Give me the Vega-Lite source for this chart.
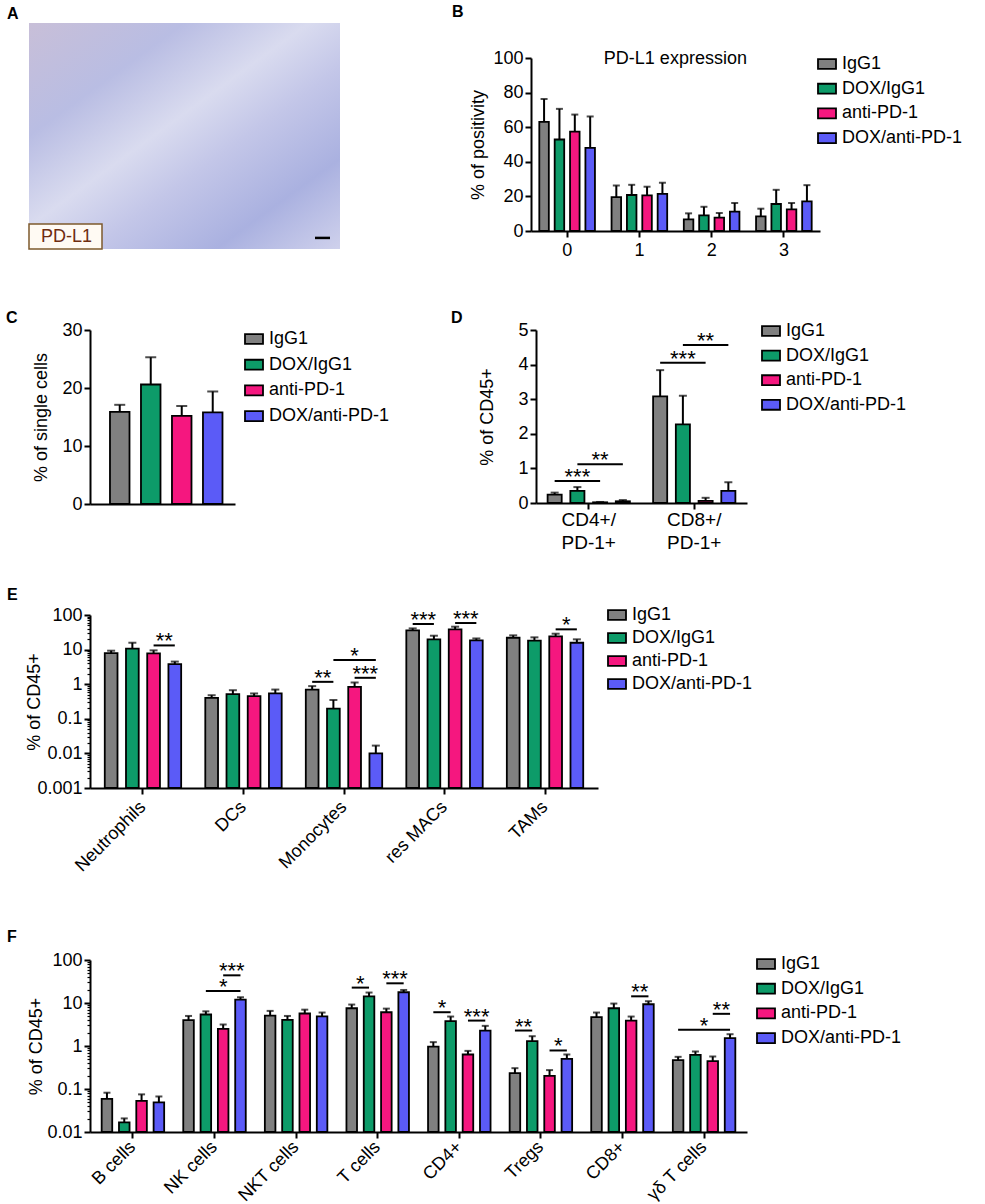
{
  "$schema": "https://vega.github.io/schema/vega-lite/v6.json",
  "padding": {"left": 6, "top": 4, "right": 0, "bottom": 0},
  "config": {
    "font": "Liberation Sans",
    "view": {"stroke": null},
    "axis": {
      "domainColor": "black", "domainWidth": 2,
      "tickColor": "black", "tickWidth": 2, "tickSize": 6,
      "labelColor": "black", "labelFontSize": 18, "labelPadding": 2, "labelOverlap": false,
      "titleColor": "black", "titleFontSize": 18, "titleFontWeight": "normal",
      "grid": false
    },
    "legend": {
      "orient": "none", "direction": "vertical",
      "symbolType": "M-1,-0.55H1V0.55H-1Z", "symbolSize": 324,
      "symbolStrokeColor": "black", "symbolStrokeWidth": 1.8, "symbolOpacity": 1,
      "labelFontSize": 18, "labelColor": "black", "labelOffset": 5,
      "rowPadding": 5.5, "padding": 0
    },
    "title": {"fontSize": 16, "fontWeight": "bold", "anchor": "start", "frame": "group", "baseline": "alphabetic", "color": "black"}
  },
  "resolve": {"scale": {"color": "independent"}, "legend": {"color": "independent"}},
  "concat": [
    {
      "resolve": {"scale": {"color": "independent"}, "legend": {"color": "independent"}},
      "concat": [
        {
          "resolve": {"scale": {"color": "independent"}, "legend": {"color": "independent"}},
          "concat": [
            {
              "title": {"text": "A", "dx": -83, "offset": 1},
              "width": 250, "height": 191,
              "data": {"values": [{}]},
              "layer": [
                {
                  "mark": {"type": "rect", "color": {"gradient": "linear", "x1": 0, "y1": 0, "x2": 1, "y2": 1,
                    "stops": [{"offset": 0, "color": "#c8bfd8"}, {"offset": 0.25, "color": "#b9bde3"}, {"offset": 0.45, "color": "#d9dbef"}, {"offset": 0.6, "color": "#c3c6e8"}, {"offset": 0.8, "color": "#aab1e0"}, {"offset": 1, "color": "#cfd1ec"}]}},
                  "encoding": {
                    "x": {"datum": -24.4, "type": "quantitative", "scale": {"domain": [0, 100], "nice": false}, "axis": null},
                    "x2": {"datum": 100},
                    "y": {"datum": 0, "type": "quantitative", "scale": {"domain": [0, 100], "nice": false}, "axis": null},
                    "y2": {"datum": 118.3}
                  }
                },
                {
                  "mark": {"type": "rect", "fill": "#fffaf3", "stroke": "#7d5a2c", "strokeWidth": 1.5},
                  "encoding": {
                    "x": {"datum": -24.4, "type": "quantitative"}, "x2": {"datum": 4.8},
                    "y": {"datum": 0, "type": "quantitative"}, "y2": {"datum": 13.1}
                  }
                },
                {
                  "mark": {"type": "text", "text": "PD-L1", "fontSize": 18, "color": "#6e2c10", "align": "center", "baseline": "middle"},
                  "encoding": {"x": {"datum": -9.4, "type": "quantitative"}, "y": {"datum": 6.5, "type": "quantitative"}}
                },
                {
                  "mark": {"type": "rule", "strokeWidth": 2.5, "color": "black"},
                  "encoding": {"x": {"datum": 90, "type": "quantitative"}, "x2": {"datum": 96}, "y": {"datum": 5.8, "type": "quantitative"}}
                }
              ]
            },
            {
              "title": {"text": "B", "dx": -79, "offset": 29},
              "width": 289, "height": 173,
              "data": {"values": [
                {"Bin": "0", "Treatment": "IgG1", "Mean": 63.1, "Upper": 76.3},
                {"Bin": "0", "Treatment": "DOX/IgG1", "Mean": 52.9, "Upper": 70.6},
                {"Bin": "0", "Treatment": "anti-PD-1", "Mean": 57.5, "Upper": 67.3},
                {"Bin": "0", "Treatment": "DOX/anti-PD-1", "Mean": 48.1, "Upper": 66.2},
                {"Bin": "1", "Treatment": "IgG1", "Mean": 19.6, "Upper": 26.3},
                {"Bin": "1", "Treatment": "DOX/IgG1", "Mean": 20.8, "Upper": 26.7},
                {"Bin": "1", "Treatment": "anti-PD-1", "Mean": 20.6, "Upper": 25.6},
                {"Bin": "1", "Treatment": "DOX/anti-PD-1", "Mean": 21.5, "Upper": 27.9},
                {"Bin": "2", "Treatment": "IgG1", "Mean": 6.7, "Upper": 10.2},
                {"Bin": "2", "Treatment": "DOX/IgG1", "Mean": 9.0, "Upper": 14.0},
                {"Bin": "2", "Treatment": "anti-PD-1", "Mean": 7.7, "Upper": 10.4},
                {"Bin": "2", "Treatment": "DOX/anti-PD-1", "Mean": 11.2, "Upper": 16.2},
                {"Bin": "3", "Treatment": "IgG1", "Mean": 8.5, "Upper": 12.9},
                {"Bin": "3", "Treatment": "DOX/IgG1", "Mean": 15.6, "Upper": 23.8},
                {"Bin": "3", "Treatment": "anti-PD-1", "Mean": 12.5, "Upper": 16.2},
                {"Bin": "3", "Treatment": "DOX/anti-PD-1", "Mean": 17.1, "Upper": 26.5}
              ]},
              "encoding": {
                "x": {"field": "Bin", "type": "nominal",
                  "scale": {"domain": ["0", "1", "2", "3"], "paddingInner": 0.23, "paddingOuter": 0.115},
                  "axis": {"title": null, "labelAngle": 0, "labelPadding": 4}}
              },
              "layer": [
                {
                  "mark": {"type": "bar", "stroke": "black", "strokeWidth": 1.8},
                  "encoding": {
                    "xOffset": {"field": "Treatment", "scale": {"domain": ["IgG1", "DOX/IgG1", "anti-PD-1", "DOX/anti-PD-1"], "paddingInner": 0.38, "paddingOuter": 0}},
                    "y": {"field": "Mean", "type": "quantitative", "scale": {"domain": [0, 100], "nice": false},
                      "axis": {"values": [0, 20, 40, 60, 80, 100], "tickCount": 10, "format": "d", "labelOverlap": false, "title": "% of positivity", "titleX": -53, "titleBaseline": "middle"}},
                    "color": {"field": "Treatment", "type": "nominal",
                      "scale": {"domain": ["IgG1", "DOX/IgG1", "anti-PD-1", "DOX/anti-PD-1"], "range": ["#808080", "#0d9b69", "#f5177f", "#5b5bf7"]},
                      "legend": {"title": null, "legendX": 286, "legendY": -4, "rowPadding": 5.7}}
                  }
                },
                {
                  "mark": {"type": "rule", "strokeWidth": 2, "color": "black"},
                  "encoding": {
                    "xOffset": {"field": "Treatment", "scale": {"domain": ["IgG1", "DOX/IgG1", "anti-PD-1", "DOX/anti-PD-1"], "paddingInner": 0.38, "paddingOuter": 0}},
                    "y": {"field": "Mean", "type": "quantitative"}, "y2": {"field": "Upper"}
                  }
                },
                {
                  "mark": {"type": "tick", "thickness": 2, "size": 7, "color": "black"},
                  "encoding": {
                    "xOffset": {"field": "Treatment", "scale": {"domain": ["IgG1", "DOX/IgG1", "anti-PD-1", "DOX/anti-PD-1"], "paddingInner": 0.38, "paddingOuter": 0}},
                    "y": {"field": "Upper", "type": "quantitative"}
                  }
                },
                {
                  "transform": [{"filter": "datum.Bin == '1' && datum.Treatment == 'IgG1'"}],
                  "mark": {"type": "text", "text": "PD-L1 expression", "fontSize": 18, "align": "center", "baseline": "alphabetic", "dx": 36, "dy": 6},
                  "encoding": {"x": {"field": "Bin", "type": "nominal"}, "y": {"datum": 100, "type": "quantitative"}}
                }
              ]
            }
          ],
          "columns": 2, "align": "none", "spacing": 112
        },
        {
          "resolve": {"scale": {"color": "independent"}, "legend": {"color": "independent"}},
          "concat": [
            {
              "title": {"text": "C", "dx": -84, "offset": -5},
              "width": 145, "height": 174,
              "data": {"values": [
                {"Treatment": "IgG1", "Mean": 15.9, "Upper": 17.1},
                {"Treatment": "DOX/IgG1", "Mean": 20.6, "Upper": 25.3},
                {"Treatment": "anti-PD-1", "Mean": 15.2, "Upper": 16.9},
                {"Treatment": "DOX/anti-PD-1", "Mean": 15.8, "Upper": 19.4}
              ]},
              "encoding": {
                "x": {"field": "Treatment", "type": "nominal",
                  "scale": {"domain": ["IgG1", "DOX/IgG1", "anti-PD-1", "DOX/anti-PD-1"], "paddingInner": 0.37, "paddingOuter": 0.524, "align": 0.615},
                  "axis": {"title": null, "labels": false, "ticks": false}}
              },
              "layer": [
                {
                  "mark": {"type": "bar", "stroke": "black", "strokeWidth": 1.8},
                  "encoding": {
                    "y": {"field": "Mean", "type": "quantitative", "scale": {"domain": [0, 30], "nice": false},
                      "axis": {"values": [0, 10, 20, 30], "tickCount": 10, "format": "d", "labelOverlap": false, "title": "% of single cells", "titleX": -49, "titleBaseline": "middle"}},
                    "color": {"field": "Treatment", "type": "nominal",
                      "scale": {"domain": ["IgG1", "DOX/IgG1", "anti-PD-1", "DOX/anti-PD-1"], "range": ["#808080", "#0d9b69", "#f5177f", "#5b5bf7"]},
                      "legend": {"title": null, "legendX": 154, "legendY": -1, "rowPadding": 6.7}}
                  }
                },
                {
                  "mark": {"type": "rule", "strokeWidth": 2, "color": "black"},
                  "encoding": {"y": {"field": "Mean", "type": "quantitative"}, "y2": {"field": "Upper"}}
                },
                {
                  "mark": {"type": "tick", "thickness": 2, "size": 11, "color": "black"},
                  "encoding": {"y": {"field": "Upper", "type": "quantitative"}}
                }
              ]
            },
            {
              "title": {"text": "D", "dx": -85, "offset": -5},
              "width": 211, "height": 173,
              "data": {"values": [
                {"Cell": "CD4+/ PD-1+", "Treatment": "IgG1", "Mean": 0.24, "Upper": 0.30},
                {"Cell": "CD4+/ PD-1+", "Treatment": "DOX/IgG1", "Mean": 0.35, "Upper": 0.46},
                {"Cell": "CD4+/ PD-1+", "Treatment": "anti-PD-1", "Mean": 0.02, "Upper": 0.03},
                {"Cell": "CD4+/ PD-1+", "Treatment": "DOX/anti-PD-1", "Mean": 0.05, "Upper": 0.085},
                {"Cell": "CD8+/ PD-1+", "Treatment": "IgG1", "Mean": 3.08, "Upper": 3.84},
                {"Cell": "CD8+/ PD-1+", "Treatment": "DOX/IgG1", "Mean": 2.27, "Upper": 3.10},
                {"Cell": "CD8+/ PD-1+", "Treatment": "anti-PD-1", "Mean": 0.06, "Upper": 0.15},
                {"Cell": "CD8+/ PD-1+", "Treatment": "DOX/anti-PD-1", "Mean": 0.35, "Upper": 0.60}
              ]},
              "encoding": {
                "x": {"field": "Cell", "type": "nominal",
                  "scale": {"domain": ["CD4+/ PD-1+", "CD8+/ PD-1+"], "paddingInner": 0.22, "paddingOuter": 0.11},
                  "axis": {"title": null, "labelAngle": 0, "labelPadding": 1, "labelExpr": "split(datum.label, ' ')", "labelLineHeight": 23.3, "labelBaseline": "top", "labelFontSize": 19}}
              },
              "layer": [
                {
                  "mark": {"type": "bar", "stroke": "black", "strokeWidth": 1.8},
                  "encoding": {
                    "xOffset": {"field": "Treatment", "scale": {"domain": ["IgG1", "DOX/IgG1", "anti-PD-1", "DOX/anti-PD-1"], "paddingInner": 0.38, "paddingOuter": 0}},
                    "y": {"field": "Mean", "type": "quantitative", "scale": {"domain": [0, 5], "nice": false},
                      "axis": {"values": [0, 1, 2, 3, 4, 5], "tickCount": 10, "format": "d", "labelOverlap": false, "title": "% of CD45+", "titleX": -49, "titleBaseline": "middle"}},
                    "color": {"field": "Treatment", "type": "nominal",
                      "scale": {"domain": ["IgG1", "DOX/IgG1", "anti-PD-1", "DOX/anti-PD-1"], "range": ["#808080", "#0d9b69", "#f5177f", "#5b5bf7"]},
                      "legend": {"title": null, "legendX": 225, "legendY": -9, "rowPadding": 5.6}}
                  }
                },
                {
                  "mark": {"type": "rule", "strokeWidth": 2, "color": "black"},
                  "encoding": {
                    "xOffset": {"field": "Treatment", "scale": {"domain": ["IgG1", "DOX/IgG1", "anti-PD-1", "DOX/anti-PD-1"], "paddingInner": 0.38, "paddingOuter": 0}},
                    "y": {"field": "Mean", "type": "quantitative"}, "y2": {"field": "Upper"}
                  }
                },
                {
                  "mark": {"type": "tick", "thickness": 2, "size": 8, "color": "black"},
                  "encoding": {
                    "xOffset": {"field": "Treatment", "scale": {"domain": ["IgG1", "DOX/IgG1", "anti-PD-1", "DOX/anti-PD-1"], "paddingInner": 0.38, "paddingOuter": 0}},
                    "y": {"field": "Upper", "type": "quantitative"}
                  }
                },
                {
                  "data": {"values": [
                    {"Cell": "CD4+/ PD-1+", "From": "IgG1", "To": "anti-PD-1", "Mid": "DOX/IgG1", "Y": 0.637, "Label": "***"},
                    {"Cell": "CD4+/ PD-1+", "From": "DOX/IgG1", "To": "DOX/anti-PD-1", "Mid": "anti-PD-1", "Y": 1.12, "Label": "**"},
                    {"Cell": "CD8+/ PD-1+", "From": "IgG1", "To": "anti-PD-1", "Mid": "DOX/IgG1", "Y": 4.05, "Label": "***"},
                    {"Cell": "CD8+/ PD-1+", "From": "DOX/IgG1", "To": "DOX/anti-PD-1", "Mid": "anti-PD-1", "Y": 4.57, "Label": "**"}
                  ]},
                  "transform": [{"fold": ["From", "To"], "as": ["End", "Slot"]}],
                  "mark": {"type": "line", "color": "black", "strokeWidth": 2},
                  "encoding": {
                    "xOffset": {"field": "Slot", "scale": {"type": "point", "padding": 0.62, "domain": ["IgG1", "IgG1–DOX/IgG1", "DOX/IgG1", "DOX/IgG1–anti-PD-1", "anti-PD-1", "anti-PD-1–DOX/anti-PD-1", "DOX/anti-PD-1"]}},
                    "y": {"field": "Y", "type": "quantitative"},
                    "detail": [{"field": "Cell"}, {"field": "Y"}]
                  }
                },
                {
                  "data": {"values": [
                    {"Cell": "CD4+/ PD-1+", "Mid": "DOX/IgG1", "Y": 0.637, "Label": "***"},
                    {"Cell": "CD4+/ PD-1+", "Mid": "anti-PD-1", "Y": 1.12, "Label": "**"},
                    {"Cell": "CD8+/ PD-1+", "Mid": "DOX/IgG1", "Y": 4.05, "Label": "***"},
                    {"Cell": "CD8+/ PD-1+", "Mid": "anti-PD-1", "Y": 4.57, "Label": "**"}
                  ]},
                  "mark": {"type": "text", "fontSize": 22, "align": "center", "baseline": "alphabetic", "dy": 3},
                  "encoding": {
                    "xOffset": {"field": "Mid", "scale": {"type": "point", "padding": 0.62, "domain": ["IgG1", "IgG1–DOX/IgG1", "DOX/IgG1", "DOX/IgG1–anti-PD-1", "anti-PD-1", "anti-PD-1–DOX/anti-PD-1", "DOX/anti-PD-1"]}},
                    "y": {"field": "Y", "type": "quantitative"},
                    "text": {"field": "Label"}
                  }
                }
              ],
              "resolve": {"scale": {"xOffset": "independent"}}
            }
          ],
          "columns": 2, "align": "none", "spacing": 61
        }
      ],
      "columns": 1, "align": "none", "spacing": 51
    },
    {
      "resolve": {"scale": {"color": "independent"}, "legend": {"color": "independent"}},
      "concat": [
        {
          "title": {"text": "E", "dx": -83, "offset": 2},
          "width": 508, "height": 173,
          "encoding": {
            "x": {"field": "Cell", "type": "nominal",
              "scale": {"domain": ["Neutrophils", "DCs", "Monocytes", "res MACs", "TAMs"], "paddingInner": 0.24, "paddingOuter": 0.147},
              "axis": {"title": null, "labelAngle": -45, "labelAlign": "right", "labelBaseline": "middle", "labelPadding": 10}}
          },
          "layer": [
            {
              "data": {"values": [
                {"Cell": "Neutrophils", "Treatment": "IgG1", "Mean": 7.9, "Upper": 9.3},
                {"Cell": "Neutrophils", "Treatment": "DOX/IgG1", "Mean": 10.6, "Upper": 15.8},
                {"Cell": "Neutrophils", "Treatment": "anti-PD-1", "Mean": 7.8, "Upper": 9.5},
                {"Cell": "Neutrophils", "Treatment": "DOX/anti-PD-1", "Mean": 3.8, "Upper": 4.5},
                {"Cell": "DCs", "Treatment": "IgG1", "Mean": 0.40, "Upper": 0.48},
                {"Cell": "DCs", "Treatment": "DOX/IgG1", "Mean": 0.52, "Upper": 0.67},
                {"Cell": "DCs", "Treatment": "anti-PD-1", "Mean": 0.45, "Upper": 0.54},
                {"Cell": "DCs", "Treatment": "DOX/anti-PD-1", "Mean": 0.54, "Upper": 0.70},
                {"Cell": "Monocytes", "Treatment": "IgG1", "Mean": 0.70, "Upper": 0.88},
                {"Cell": "Monocytes", "Treatment": "DOX/IgG1", "Mean": 0.198, "Upper": 0.35},
                {"Cell": "Monocytes", "Treatment": "anti-PD-1", "Mean": 0.84, "Upper": 1.12},
                {"Cell": "Monocytes", "Treatment": "DOX/anti-PD-1", "Mean": 0.010, "Upper": 0.0168},
                {"Cell": "res MACs", "Treatment": "IgG1", "Mean": 36, "Upper": 41},
                {"Cell": "res MACs", "Treatment": "DOX/IgG1", "Mean": 19.7, "Upper": 25.2},
                {"Cell": "res MACs", "Treatment": "anti-PD-1", "Mean": 38.5, "Upper": 45.9},
                {"Cell": "res MACs", "Treatment": "DOX/anti-PD-1", "Mean": 18.5, "Upper": 21},
                {"Cell": "TAMs", "Treatment": "IgG1", "Mean": 22, "Upper": 25.8},
                {"Cell": "TAMs", "Treatment": "DOX/IgG1", "Mean": 18.1, "Upper": 22.6},
                {"Cell": "TAMs", "Treatment": "anti-PD-1", "Mean": 24.1, "Upper": 28.8},
                {"Cell": "TAMs", "Treatment": "DOX/anti-PD-1", "Mean": 15.8, "Upper": 19.8}
              ]},
              "encoding": {
                "xOffset": {"field": "Treatment", "scale": {"domain": ["IgG1", "DOX/IgG1", "anti-PD-1", "DOX/anti-PD-1"], "paddingInner": 0.40, "paddingOuter": 0}}
              },
              "layer": [
                {
                  "mark": {"type": "bar", "stroke": "black", "strokeWidth": 1.8},
                  "encoding": {
                    "y": {"field": "Mean", "type": "quantitative", "scale": {"type": "log", "domain": [0.001, 100], "nice": false},
                      "axis": {
                        "values": [0.001, 0.002, 0.003, 0.004, 0.005, 0.006, 0.007, 0.008, 0.009, 0.01, 0.02, 0.03, 0.04, 0.05, 0.06, 0.07, 0.08, 0.09, 0.1, 0.2, 0.3, 0.4, 0.5, 0.6, 0.7, 0.8, 0.9, 1, 2, 3, 4, 5, 6, 7, 8, 9, 10, 20, 30, 40, 50, 60, 70, 80, 90, 100],
                        "labelExpr": "abs(log(datum.value)/LN10 - round(log(datum.value)/LN10)) < 0.01 ? format(datum.value, '~g') : ''",
                        "tickSize": {"condition": {"test": "abs(log(datum.value)/LN10 - round(log(datum.value)/LN10)) < 0.01", "value": 6}, "value": 3},
                        "tickWidth": {"condition": {"test": "abs(log(datum.value)/LN10 - round(log(datum.value)/LN10)) < 0.01", "value": 2}, "value": 1.2},
                        "labelOverlap": false, "labelBound": false,
                        "title": "% of CD45+", "titleX": -56, "titleBaseline": "middle"}},
                    "y2": {"datum": 0.001},
                    "color": {"field": "Treatment", "type": "nominal",
                      "scale": {"domain": ["IgG1", "DOX/IgG1", "anti-PD-1", "DOX/anti-PD-1"], "range": ["#808080", "#0d9b69", "#f5177f", "#5b5bf7"]},
                      "legend": {"title": null, "legendX": 517, "legendY": -10, "rowPadding": 4.0}}
                  }
                },
                {
                  "mark": {"type": "rule", "strokeWidth": 2, "color": "black"},
                  "encoding": {"y": {"field": "Mean", "type": "quantitative", "scale": {"type": "log", "domain": [0.001, 100], "nice": false}}, "y2": {"field": "Upper"}}
                },
                {
                  "mark": {"type": "tick", "thickness": 2, "size": 8, "color": "black"},
                  "encoding": {"y": {"field": "Upper", "type": "quantitative", "scale": {"type": "log", "domain": [0.001, 100], "nice": false}}}
                }
              ]
            },
            {
              "data": {"values": [
                {"Cell": "Neutrophils", "From": "anti-PD-1", "To": "DOX/anti-PD-1", "Mid": "anti-PD-1–DOX/anti-PD-1", "Y": 13.2, "Label": "**"},
                {"Cell": "Monocytes", "From": "IgG1", "To": "DOX/IgG1", "Mid": "IgG1–DOX/IgG1", "Y": 1.17, "Label": "**"},
                {"Cell": "Monocytes", "From": "DOX/IgG1", "To": "DOX/anti-PD-1", "Mid": "anti-PD-1", "Y": 4.98, "Label": "*"},
                {"Cell": "Monocytes", "From": "anti-PD-1", "To": "DOX/anti-PD-1", "Mid": "anti-PD-1–DOX/anti-PD-1", "Y": 1.53, "Label": "***"},
                {"Cell": "res MACs", "From": "IgG1", "To": "DOX/IgG1", "Mid": "IgG1–DOX/IgG1", "Y": 55, "Label": "***"},
                {"Cell": "res MACs", "From": "anti-PD-1", "To": "DOX/anti-PD-1", "Mid": "anti-PD-1–DOX/anti-PD-1", "Y": 58.6, "Label": "***"},
                {"Cell": "TAMs", "From": "anti-PD-1", "To": "DOX/anti-PD-1", "Mid": "anti-PD-1–DOX/anti-PD-1", "Y": 38.5, "Label": "*"}
              ]},
              "layer": [
                {
                  "transform": [{"fold": ["From", "To"], "as": ["End", "Slot"]}],
                  "mark": {"type": "line", "color": "black", "strokeWidth": 2},
                  "encoding": {
                    "xOffset": {"field": "Slot", "scale": {"type": "point", "padding": 0.60, "domain": ["IgG1", "IgG1–DOX/IgG1", "DOX/IgG1", "DOX/IgG1–anti-PD-1", "anti-PD-1", "anti-PD-1–DOX/anti-PD-1", "DOX/anti-PD-1"]}},
                    "y": {"field": "Y", "type": "quantitative", "scale": {"type": "log", "domain": [0.001, 100], "nice": false}},
                    "detail": [{"field": "Cell"}, {"field": "Y"}]
                  }
                },
                {
                  "mark": {"type": "text", "fontSize": 22, "align": "center", "baseline": "alphabetic", "dy": 3},
                  "encoding": {
                    "xOffset": {"field": "Mid", "scale": {"type": "point", "padding": 0.60, "domain": ["IgG1", "IgG1–DOX/IgG1", "DOX/IgG1", "DOX/IgG1–anti-PD-1", "anti-PD-1", "anti-PD-1–DOX/anti-PD-1", "DOX/anti-PD-1"]}},
                    "y": {"field": "Y", "type": "quantitative", "scale": {"type": "log", "domain": [0.001, 100], "nice": false}},
                    "text": {"field": "Label"}
                  }
                }
              ]
            }
          ],
          "resolve": {"scale": {"xOffset": "independent"}}
        },
        {
          "title": {"text": "F", "dx": -83, "offset": 6},
          "width": 657, "height": 172,
          "encoding": {
            "x": {"field": "Cell", "type": "nominal",
              "scale": {"domain": ["B cells", "NK cells", "NKT cells", "T cells", "CD4+", "Tregs", "CD8+", "γδ T cells"], "paddingInner": 0.234, "paddingOuter": 0.143},
              "axis": {"title": null, "labelAngle": -45, "labelAlign": "right", "labelBaseline": "middle", "labelPadding": 6}}
          },
          "layer": [
            {
              "data": {"values": [
                {"Cell": "B cells", "Treatment": "IgG1", "Mean": 0.059, "Upper": 0.082},
                {"Cell": "B cells", "Treatment": "DOX/IgG1", "Mean": 0.0168, "Upper": 0.0207},
                {"Cell": "B cells", "Treatment": "anti-PD-1", "Mean": 0.053, "Upper": 0.075},
                {"Cell": "B cells", "Treatment": "DOX/anti-PD-1", "Mean": 0.049, "Upper": 0.067},
                {"Cell": "NK cells", "Treatment": "IgG1", "Mean": 3.98, "Upper": 5.0},
                {"Cell": "NK cells", "Treatment": "DOX/IgG1", "Mean": 5.4, "Upper": 6.4},
                {"Cell": "NK cells", "Treatment": "anti-PD-1", "Mean": 2.5, "Upper": 3.16},
                {"Cell": "NK cells", "Treatment": "DOX/anti-PD-1", "Mean": 12.0, "Upper": 13.6},
                {"Cell": "NKT cells", "Treatment": "IgG1", "Mean": 5.1, "Upper": 6.55},
                {"Cell": "NKT cells", "Treatment": "DOX/IgG1", "Mean": 4.05, "Upper": 5.0},
                {"Cell": "NKT cells", "Treatment": "anti-PD-1", "Mean": 5.7, "Upper": 7.0},
                {"Cell": "NKT cells", "Treatment": "DOX/anti-PD-1", "Mean": 4.9, "Upper": 6.0},
                {"Cell": "T cells", "Treatment": "IgG1", "Mean": 7.55, "Upper": 9.2},
                {"Cell": "T cells", "Treatment": "DOX/IgG1", "Mean": 14.3, "Upper": 17.5},
                {"Cell": "T cells", "Treatment": "anti-PD-1", "Mean": 6.1, "Upper": 7.4},
                {"Cell": "T cells", "Treatment": "DOX/anti-PD-1", "Mean": 17.8, "Upper": 20.1},
                {"Cell": "CD4+", "Treatment": "IgG1", "Mean": 0.97, "Upper": 1.23},
                {"Cell": "CD4+", "Treatment": "DOX/IgG1", "Mean": 3.77, "Upper": 4.84},
                {"Cell": "CD4+", "Treatment": "anti-PD-1", "Mean": 0.635, "Upper": 0.77},
                {"Cell": "CD4+", "Treatment": "DOX/anti-PD-1", "Mean": 2.29, "Upper": 2.94},
                {"Cell": "Tregs", "Treatment": "IgG1", "Mean": 0.234, "Upper": 0.305},
                {"Cell": "Tregs", "Treatment": "DOX/IgG1", "Mean": 1.30, "Upper": 1.69},
                {"Cell": "Tregs", "Treatment": "anti-PD-1", "Mean": 0.203, "Upper": 0.275},
                {"Cell": "Tregs", "Treatment": "DOX/anti-PD-1", "Mean": 0.504, "Upper": 0.635},
                {"Cell": "CD8+", "Treatment": "IgG1", "Mean": 4.67, "Upper": 6.0},
                {"Cell": "CD8+", "Treatment": "DOX/IgG1", "Mean": 7.55, "Upper": 9.7},
                {"Cell": "CD8+", "Treatment": "anti-PD-1", "Mean": 3.9, "Upper": 4.84},
                {"Cell": "CD8+", "Treatment": "DOX/anti-PD-1", "Mean": 9.35, "Upper": 11.0},
                {"Cell": "γδ T cells", "Treatment": "IgG1", "Mean": 0.469, "Upper": 0.56},
                {"Cell": "γδ T cells", "Treatment": "DOX/IgG1", "Mean": 0.62, "Upper": 0.745},
                {"Cell": "γδ T cells", "Treatment": "anti-PD-1", "Mean": 0.445, "Upper": 0.57},
                {"Cell": "γδ T cells", "Treatment": "DOX/anti-PD-1", "Mean": 1.52, "Upper": 1.88}
              ]},
              "encoding": {
                "xOffset": {"field": "Treatment", "scale": {"domain": ["IgG1", "DOX/IgG1", "anti-PD-1", "DOX/anti-PD-1"], "paddingInner": 0.39, "paddingOuter": 0}}
              },
              "layer": [
                {
                  "mark": {"type": "bar", "stroke": "black", "strokeWidth": 1.8},
                  "encoding": {
                    "y": {"field": "Mean", "type": "quantitative", "scale": {"type": "log", "domain": [0.01, 100], "nice": false},
                      "axis": {
                        "values": [0.01, 0.02, 0.03, 0.04, 0.05, 0.06, 0.07, 0.08, 0.09, 0.1, 0.2, 0.3, 0.4, 0.5, 0.6, 0.7, 0.8, 0.9, 1, 2, 3, 4, 5, 6, 7, 8, 9, 10, 20, 30, 40, 50, 60, 70, 80, 90, 100],
                        "labelExpr": "abs(log(datum.value)/LN10 - round(log(datum.value)/LN10)) < 0.01 ? format(datum.value, '~g') : ''",
                        "tickSize": {"condition": {"test": "abs(log(datum.value)/LN10 - round(log(datum.value)/LN10)) < 0.01", "value": 6}, "value": 3},
                        "tickWidth": {"condition": {"test": "abs(log(datum.value)/LN10 - round(log(datum.value)/LN10)) < 0.01", "value": 2}, "value": 1.2},
                        "labelOverlap": false, "labelBound": false,
                        "title": "% of CD45+", "titleX": -54, "titleBaseline": "middle"}},
                    "y2": {"datum": 0.01},
                    "color": {"field": "Treatment", "type": "nominal",
                      "scale": {"domain": ["IgG1", "DOX/IgG1", "anti-PD-1", "DOX/anti-PD-1"], "range": ["#808080", "#0d9b69", "#f5177f", "#5b5bf7"]},
                      "legend": {"title": null, "legendX": 666, "legendY": -6, "rowPadding": 5.7}}
                  }
                },
                {
                  "mark": {"type": "rule", "strokeWidth": 2, "color": "black"},
                  "encoding": {"y": {"field": "Mean", "type": "quantitative", "scale": {"type": "log", "domain": [0.01, 100], "nice": false}}, "y2": {"field": "Upper"}}
                },
                {
                  "mark": {"type": "tick", "thickness": 2, "size": 7, "color": "black"},
                  "encoding": {"y": {"field": "Upper", "type": "quantitative", "scale": {"type": "log", "domain": [0.01, 100], "nice": false}}}
                }
              ]
            },
            {
              "data": {"values": [
                {"Cell": "NK cells", "From": "anti-PD-1", "To": "DOX/anti-PD-1", "Mid": "anti-PD-1–DOX/anti-PD-1", "Y": 44, "Label": "***"},
                {"Cell": "NK cells", "From": "DOX/IgG1", "To": "DOX/anti-PD-1", "Mid": "anti-PD-1", "Y": 19.1, "Label": "*"},
                {"Cell": "T cells", "From": "IgG1", "To": "DOX/IgG1", "Mid": "IgG1–DOX/IgG1", "Y": 22.8, "Label": "*"},
                {"Cell": "T cells", "From": "anti-PD-1", "To": "DOX/anti-PD-1", "Mid": "anti-PD-1–DOX/anti-PD-1", "Y": 28.7, "Label": "***"},
                {"Cell": "CD4+", "From": "IgG1", "To": "DOX/IgG1", "Mid": "IgG1–DOX/IgG1", "Y": 6.1, "Label": "*"},
                {"Cell": "CD4+", "From": "anti-PD-1", "To": "DOX/anti-PD-1", "Mid": "anti-PD-1–DOX/anti-PD-1", "Y": 3.9, "Label": "***"},
                {"Cell": "Tregs", "From": "IgG1", "To": "DOX/IgG1", "Mid": "IgG1–DOX/IgG1", "Y": 2.29, "Label": "**"},
                {"Cell": "Tregs", "From": "anti-PD-1", "To": "DOX/anti-PD-1", "Mid": "anti-PD-1–DOX/anti-PD-1", "Y": 0.787, "Label": "*"},
                {"Cell": "CD8+", "From": "anti-PD-1", "To": "DOX/anti-PD-1", "Mid": "anti-PD-1–DOX/anti-PD-1", "Y": 14.3, "Label": "**"},
                {"Cell": "γδ T cells", "From": "anti-PD-1", "To": "DOX/anti-PD-1", "Mid": "anti-PD-1–DOX/anti-PD-1", "Y": 5.6, "Label": "**"},
                {"Cell": "γδ T cells", "From": "IgG1", "To": "DOX/anti-PD-1", "Mid": "DOX/IgG1–anti-PD-1", "Y": 2.4, "Label": "*"}
              ]},
              "layer": [
                {
                  "transform": [{"fold": ["From", "To"], "as": ["End", "Slot"]}],
                  "mark": {"type": "line", "color": "black", "strokeWidth": 2},
                  "encoding": {
                    "xOffset": {"field": "Slot", "scale": {"type": "point", "padding": 0.61, "domain": ["IgG1", "IgG1–DOX/IgG1", "DOX/IgG1", "DOX/IgG1–anti-PD-1", "anti-PD-1", "anti-PD-1–DOX/anti-PD-1", "DOX/anti-PD-1"]}},
                    "y": {"field": "Y", "type": "quantitative", "scale": {"type": "log", "domain": [0.01, 100], "nice": false}},
                    "detail": [{"field": "Cell"}, {"field": "Y"}]
                  }
                },
                {
                  "mark": {"type": "text", "fontSize": 22, "align": "center", "baseline": "alphabetic", "dy": 3},
                  "encoding": {
                    "xOffset": {"field": "Mid", "scale": {"type": "point", "padding": 0.61, "domain": ["IgG1", "IgG1–DOX/IgG1", "DOX/IgG1", "DOX/IgG1–anti-PD-1", "anti-PD-1", "anti-PD-1–DOX/anti-PD-1", "DOX/anti-PD-1"]}},
                    "y": {"field": "Y", "type": "quantitative", "scale": {"type": "log", "domain": [0.01, 100], "nice": false}},
                    "text": {"field": "Label"}
                  }
                }
              ]
            }
          ],
          "resolve": {"scale": {"xOffset": "independent"}}
        }
      ],
      "columns": 1, "align": "none", "spacing": 54
    }
  ],
  "columns": 1, "align": "none", "spacing": 34
}
